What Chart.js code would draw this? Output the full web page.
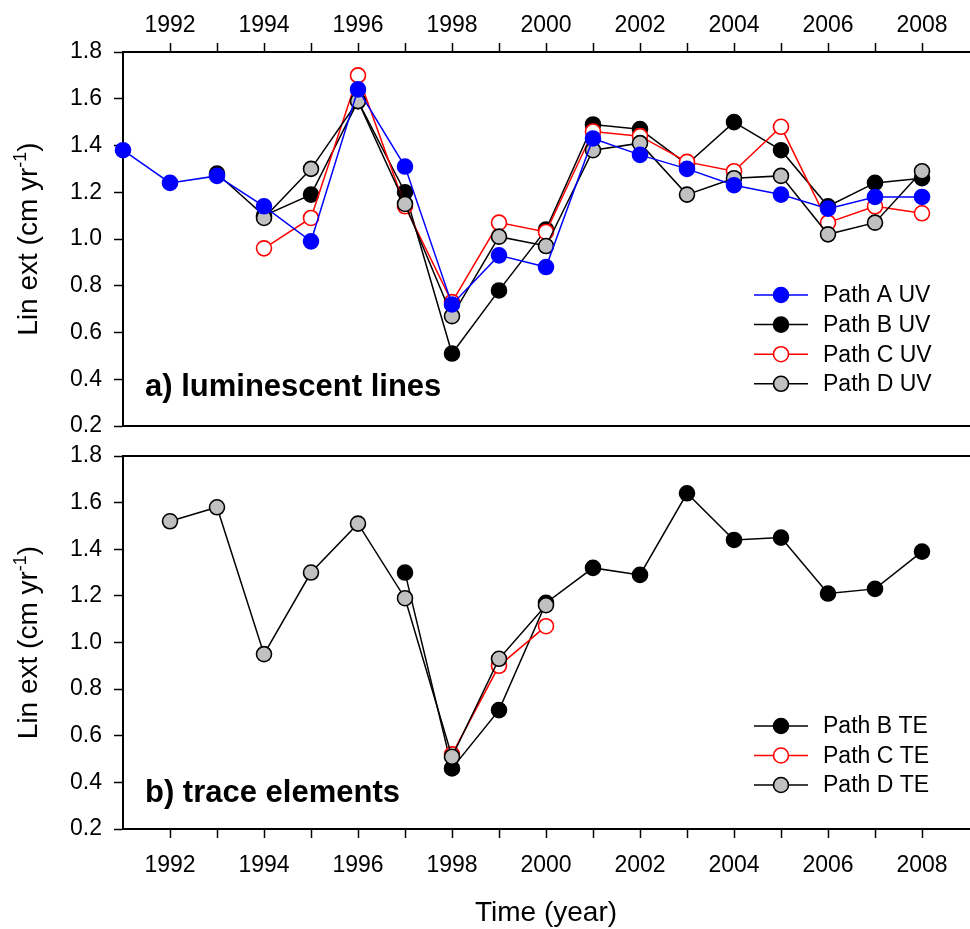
<!DOCTYPE html>
<html>
<head>
<meta charset="utf-8">
<script src="https://cdn.jsdelivr.net/npm/chart.js@4.4.0/dist/chart.umd.min.js"></script>
<style>
body { margin: 0; background: #fff; }
#wrap { position: relative; width: 970px; height: 929px; }
canvas { position: absolute; left: 0; }
</style>
</head>
<body>
<div id="wrap">
  <canvas id="uv_chart" style="top:0" width="970" height="440"></canvas>
  <canvas id="te_chart" style="top:440px" width="970" height="489"></canvas>
</div>
<script>
var years = [1991, 1992, 1993, 1994, 1995, 1996, 1997, 1998, 1999, 2000, 2001, 2002, 2003, 2004, 2005, 2006, 2007, 2008];

// linear extension from luminescent lines (UV)
var pathA_uv = [1.38, 1.24, 1.27, 1.14, 0.99, 1.64, 1.31, 0.72, 0.93, 0.88, 1.43, 1.36, 1.30, 1.23, 1.19, 1.13, 1.18, 1.18];
var pathB_uv = [null, null, 1.28, 1.10, 1.19, 1.59, 1.20, 0.51, 0.78, 1.04, 1.49, 1.47, 1.32, 1.50, 1.38, 1.14, 1.24, 1.26];
var pathC_uv = [null, null, null, 0.96, 1.09, 1.70, 1.14, 0.73, 1.07, 1.03, 1.46, 1.44, 1.33, 1.29, 1.48, 1.07, 1.14, 1.11];
var pathD_uv = [null, null, null, 1.09, 1.30, 1.59, 1.15, 0.67, 1.01, 0.97, 1.38, 1.41, 1.19, 1.26, 1.27, 1.02, 1.07, 1.29];

// linear extension from trace elements (TE)
var pathB_te = [null, null, null, null, null, null, 1.30, 0.46, 0.71, 1.17, 1.32, 1.29, 1.64, 1.44, 1.45, 1.21, 1.23, 1.39];
var pathC_te = [null, null, null, null, null, null, null, 0.52, 0.90, 1.07, null, null, null, null, null, null, null, null];
var pathD_te = [null, 1.52, 1.58, 0.95, 1.30, 1.51, 1.19, 0.51, 0.93, 1.16, null, null, null, null, null, null, null, null];

var yTicks = [0.2, 0.4, 0.6, 0.8, 1.0, 1.2, 1.4, 1.6, 1.8];
var yearLabels = [1992, 1994, 1996, 1998, 2000, 2002, 2004, 2006, 2008];

var FONT = '"Liberation Sans", Arial, sans-serif';
Chart.defaults.font.family = FONT;
Chart.defaults.font.size = 23;
Chart.defaults.color = '#000';

function points(vals) {
  return years.map(function (yr, i) { return { x: yr, y: vals[i] }; });
}

var styles = {
  A: { borderColor: '#0000ff', pointBackgroundColor: '#0000ff', pointBorderColor: '#0000ff' },
  B: { borderColor: '#000000', pointBackgroundColor: '#000000', pointBorderColor: '#000000' },
  C: { borderColor: '#ff0000', pointBackgroundColor: '#ffffff', pointBorderColor: '#ff0000' },
  D: { borderColor: '#000000', pointBackgroundColor: '#c0c0c0', pointBorderColor: '#000000' }
};

function series(label, vals, st, order) {
  return {
    label: label,
    data: points(vals),
    borderColor: st.borderColor,
    pointBackgroundColor: st.pointBackgroundColor,
    pointBorderColor: st.pointBorderColor,
    borderWidth: 1.5,
    pointRadius: 7.5,
    pointBorderWidth: 1.6,
    tension: 0,
    clip: false,
    order: order
  };
}

function hideEdgeTick(ctx) {
  var v = ctx.tick ? ctx.tick.value : null;
  return (v === 1991 || v === 2009) ? 'rgba(0,0,0,0)' : '#000';
}

// axes, caption, legend and titles drawn on top of each panel
var panelDecor = {
  id: 'panelDecor',
  afterDraw: function (chart, args, opts) {
    var ctx = chart.ctx, area = chart.chartArea;
    ctx.save();

    ctx.strokeStyle = '#000';
    ctx.lineWidth = 2;
    var yLine = opts.frameSide === 'bottom' ? area.bottom : area.top;
    ctx.beginPath();
    ctx.moveTo(area.left - 1, yLine);
    ctx.lineTo(chart.width, yLine);
    ctx.stroke();

    ctx.fillStyle = '#000';
    ctx.font = 'bold 31px ' + FONT;
    ctx.textAlign = 'left';
    ctx.textBaseline = 'alphabetic';
    ctx.fillText(opts.caption, area.left + 22, opts.captionY);

    // legend
    ctx.font = '23px ' + FONT;
    ctx.textBaseline = 'middle';
    opts.legendItems.forEach(function (idx, row) {
      var ds = chart.data.datasets[idx];
      var y = opts.legendTop + row * opts.legendStep;
      ctx.strokeStyle = ds.borderColor;
      ctx.lineWidth = 1.5;
      ctx.beginPath();
      ctx.moveTo(754, y);
      ctx.lineTo(808, y);
      ctx.stroke();
      ctx.beginPath();
      ctx.arc(781, y, 7.5, 0, Math.PI * 2);
      ctx.fillStyle = ds.pointBackgroundColor;
      ctx.fill();
      ctx.lineWidth = 1.6;
      ctx.strokeStyle = ds.pointBorderColor;
      ctx.stroke();
      ctx.fillStyle = '#000';
      ctx.fillText(ds.label, 823, y + 1);
    });

    // y axis title with superscript
    var cy = (area.top + area.bottom) / 2;
    ctx.translate(37, cy);
    ctx.rotate(-Math.PI / 2);
    ctx.textBaseline = 'alphabetic';
    ctx.font = '28px ' + FONT;
    var t1 = 'Lin ext (cm yr', t3 = ')';
    var w1 = ctx.measureText(t1).width, w3 = ctx.measureText(t3).width;
    ctx.font = '18px ' + FONT;
    var t2 = '-1', w2 = ctx.measureText(t2).width;
    var x0 = -(w1 + w2 + w3) / 2;
    ctx.font = '28px ' + FONT;
    ctx.fillText(t1, x0, 0);
    ctx.fillText(t3, x0 + w1 + w2, 0);
    ctx.font = '18px ' + FONT;
    ctx.fillText(t2, x0 + w1, -11);
    ctx.setTransform(1, 0, 0, 1, 0, 0);

    if (opts.xTitle) {
      ctx.font = '28px ' + FONT;
      ctx.textAlign = 'center';
      ctx.fillText(opts.xTitle, (area.left + area.right) / 2, opts.xTitleY);
    }
    ctx.restore();
  }
};

function xAxis(position, axisHeight, pad) {
  return {
    type: 'linear',
    position: position,
    min: 1991,
    max: 2009,
    afterFit: function (s) {
      s.height = axisHeight;
      s.paddingLeft = 0;
      s.paddingRight = 0;
    },
    ticks: {
      stepSize: 1,
      padding: pad,
      maxRotation: 0,
      autoSkip: false,
      callback: function (v) { return yearLabels.indexOf(v) >= 0 ? String(v) : ''; }
    },
    grid: { drawOnChartArea: false, tickLength: 9, tickWidth: 1.5, tickColor: hideEdgeTick },
    border: { display: true, color: '#000', width: 2 }
  };
}

function yAxis() {
  return {
    min: 0.2,
    max: 1.8,
    afterFit: function (s) {
      s.width = 123;
      s.paddingTop = 0;
      s.paddingBottom = 0;
    },
    afterBuildTicks: function (s) { s.ticks = yTicks.map(function (v) { return { value: v }; }); },
    ticks: { padding: 12, callback: function (v) { return v.toFixed(1); } },
    grid: { drawOnChartArea: false, tickLength: 9, tickWidth: 1.5, tickColor: '#000' },
    border: { display: true, color: '#000', width: 2 }
  };
}

function create_UV() {
  new Chart(document.getElementById('uv_chart'), {
    type: 'line',
    data: {
      datasets: [
        series('Path A UV', pathA_uv, styles.A, 0),
        series('Path B UV', pathB_uv, styles.B, 3),
        series('Path C UV', pathC_uv, styles.C, 2),
        series('Path D UV', pathD_uv, styles.D, 1)
      ]
    },
    plugins: [panelDecor],
    options: {
      responsive: false,
      animation: false,
      events: [],
      layout: { autoPadding: false, padding: { left: 0, right: 1, top: 0, bottom: 14 } },
      scales: { x: xAxis('top', 52, 4), y: yAxis() },
      plugins: {
        legend: { display: false },
        tooltip: { enabled: false },
        panelDecor: {
          frameSide: 'bottom',
          caption: 'a) luminescent lines',
          captionY: 396,
          legendItems: [0, 1, 2, 3],
          legendTop: 295,
          legendStep: 29.6
        }
      }
    }
  });
}

function create_TE() {
  new Chart(document.getElementById('te_chart'), {
    type: 'line',
    data: {
      datasets: [
        series('Path B TE', pathB_te, styles.B, 2),
        series('Path C TE', pathC_te, styles.C, 1),
        series('Path D TE', pathD_te, styles.D, 0)
      ]
    },
    plugins: [panelDecor],
    options: {
      responsive: false,
      animation: false,
      events: [],
      layout: { autoPadding: false, padding: { left: 0, right: 1, top: 16, bottom: 0 } },
      scales: { x: xAxis('bottom', 100, 14), y: yAxis() },
      plugins: {
        legend: { display: false },
        tooltip: { enabled: false },
        panelDecor: {
          frameSide: 'top',
          caption: 'b) trace elements',
          captionY: 362,
          legendItems: [0, 1, 2],
          legendTop: 286,
          legendStep: 29.5,
          xTitle: 'Time (year)',
          xTitleY: 481
        }
      }
    }
  });
}

document.addEventListener('DOMContentLoaded', create_UV);
document.addEventListener('DOMContentLoaded', create_TE);
</script>
</body>
</html>
